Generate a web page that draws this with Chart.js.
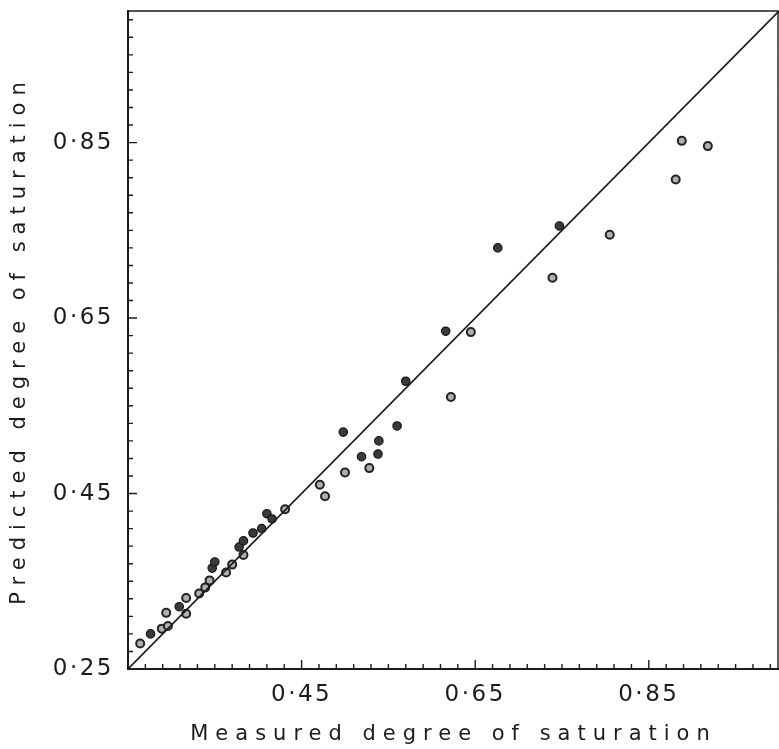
<!DOCTYPE html>
<html>
<head>
<meta charset="utf-8">
<title>Measured vs predicted degree of saturation</title>
<script src="https://cdn.jsdelivr.net/npm/chart.js@4.4.1/dist/chart.umd.min.js"></script>
<style>
    html, body { margin: 0; padding: 0; background: #ffffff; }
    #wrap { width: 779px; height: 749px; }
</style>
</head>
<body>
<div id="wrap"><canvas id="main-chart" width="779" height="749"></canvas></div>
<script>
// ==================== DATOS ====================

// Puntos rellenos (oscuros)
const measuredFilled  = [0.276, 0.309, 0.347, 0.350, 0.378, 0.383, 0.394, 0.404, 0.410, 0.416,
                         0.498, 0.519, 0.539, 0.538, 0.560, 0.570, 0.616, 0.676, 0.747];
const predictedFilled = [0.290, 0.321, 0.365, 0.372, 0.389, 0.396, 0.405, 0.410, 0.427, 0.421,
                         0.520, 0.492, 0.510, 0.495, 0.527, 0.578, 0.635, 0.730, 0.755];

// Puntos abiertos (anillos)
const measuredOpen  = [0.264, 0.289, 0.296, 0.294, 0.317, 0.317, 0.332, 0.339, 0.344, 0.363,
                       0.370, 0.383, 0.431, 0.471, 0.477, 0.500, 0.528, 0.645, 0.622, 0.739,
                       0.805, 0.881, 0.888, 0.918];
const predictedOpen = [0.279, 0.296, 0.299, 0.314, 0.331, 0.313, 0.336, 0.343, 0.351, 0.360,
                       0.369, 0.380, 0.432, 0.460, 0.447, 0.474, 0.479, 0.634, 0.560, 0.696,
                       0.745, 0.808, 0.852, 0.846];

// Linea de igualdad (y = x)
const equalityLine = [0.25, 1.0];

// Ticks de los ejes
const majorTicks = [0.25, 0.45, 0.65, 0.85];
const xTickLabels = [0.45, 0.65, 0.85];
const yTickLabels = [0.25, 0.45, 0.65, 0.85];
const minorStep = 0.02;
const axisMin = 0.25;
const axisMax = 1.0;

const xTitle = 'Measured degree of saturation';
const yTitle = 'Predicted degree of saturation';

// ==================== CONFIGURACION ====================

const ink = '#1c1c1c';
const fontFamily = "'DejaVu Sans', sans-serif";

function toPoints(xs, ys) {
    return xs.map((x, i) => ({ x: x, y: ys[i] }));
}

function tickLabel(value) {
    return value.toFixed(2).replace('.', '\u00b7');
}

/**
 * Marcas de los ejes hacia adentro + borde superior y derecho,
 * y espaciado de letras para los textos (como el rotulado original)
 */
const paperAxesPlugin = {
    id: 'paperAxes',
    beforeDraw(chart) {
        // titulos de los ejes (se dibujan con la capa de la grilla)
        chart.ctx.letterSpacing = '7px';
    },
    afterDatasetsDraw(chart) {
        const ctx = chart.ctx;
        const area = chart.chartArea;
        const xs = chart.scales.x;
        const ys = chart.scales.y;

        ctx.save();
        ctx.strokeStyle = ink;
        ctx.lineWidth = 1.4;
        ctx.beginPath();
        for (let v = axisMin; v < axisMax - 0.001; v += minorStep) {
            const isMajor = majorTicks.some(m => Math.abs(m - v) < 0.001);
            const len = isMajor ? 9 : 5;
            const px = xs.getPixelForValue(v);
            ctx.moveTo(px, area.bottom);
            ctx.lineTo(px, area.bottom - len);
            const py = ys.getPixelForValue(v);
            ctx.moveTo(area.left, py);
            ctx.lineTo(area.left + len, py);
        }
        // borde superior y derecho
        ctx.moveTo(area.left, area.top);
        ctx.lineTo(area.right - 1, area.top);
        ctx.lineTo(area.right - 1, area.bottom);
        ctx.stroke();
        ctx.restore();

        // etiquetas de los ticks (z = 1, despues de los datos)
        ctx.letterSpacing = '2.5px';
    },
    afterDraw(chart) {
        chart.ctx.letterSpacing = '0px';
    }
};

const tickBase = {
    z: 1,
    color: ink,
    autoSkip: false,
    maxRotation: 0,
    font: { family: fontFamily, size: 23 },
    callback: tickLabel
};

const chartConfig = {
    responsive: false,
    animation: false,
    devicePixelRatio: 1,
    layout: {
        autoPadding: false,
        padding: { top: 11, right: 0, bottom: 0, left: 0 }
    },
    plugins: {
        legend: { display: false },
        tooltip: { enabled: false }
    },
    scales: {
        x: {
            type: 'linear',
            position: 'bottom',
            min: axisMin,
            max: axisMax,
            grid: { display: false, drawTicks: false },
            border: { display: true, color: ink, width: 2 },
            afterBuildTicks: function(scale) {
                scale.ticks = xTickLabels.map(v => ({ value: v }));
            },
            afterFit: function(scale) {
                scale.height = 80;
                scale.paddingLeft = 0;
                scale.paddingRight = 0;
            },
            ticks: { ...tickBase, padding: 12 },
            title: {
                display: true,
                text: xTitle,
                color: ink,
                font: { family: fontFamily, size: 21 },
                padding: { top: 0, bottom: 2 }
            }
        },
        y: {
            type: 'linear',
            position: 'left',
            min: axisMin,
            max: axisMax,
            grid: { display: false, drawTicks: false },
            border: { display: true, color: ink, width: 2 },
            afterBuildTicks: function(scale) {
                scale.ticks = yTickLabels.map(v => ({ value: v }));
            },
            afterFit: function(scale) {
                scale.width = 128;
                scale.paddingTop = 0;
                scale.paddingBottom = 0;
            },
            ticks: { ...tickBase, padding: 14 },
            title: {
                display: true,
                text: yTitle,
                color: ink,
                font: { family: fontFamily, size: 21 },
                padding: { top: 7, bottom: 0 }
            }
        }
    }
};

// ==================== GRAFICO ====================

const ctx = document.getElementById('main-chart');

const mainChart = new Chart(ctx, {
    type: 'scatter',
    data: {
        datasets: [
            {
                type: 'line',
                label: 'y = x',
                data: equalityLine.map(v => ({ x: v, y: v })),
                borderColor: ink,
                borderWidth: 1.6,
                pointRadius: 0,
                fill: false,
                tension: 0
            },
            {
                label: 'Filled',
                data: toPoints(measuredFilled, predictedFilled),
                pointRadius: 4.2,
                pointBackgroundColor: '#3a3a3a',
                pointBorderColor: '#151515',
                pointBorderWidth: 1.2
            },
            {
                label: 'Open',
                data: toPoints(measuredOpen, predictedOpen),
                pointRadius: 4,
                pointBackgroundColor: '#b0b0b0',
                pointBorderColor: '#222222',
                pointBorderWidth: 2
            }
        ]
    },
    options: chartConfig,
    plugins: [paperAxesPlugin]
});
</script>
</body>
</html>
